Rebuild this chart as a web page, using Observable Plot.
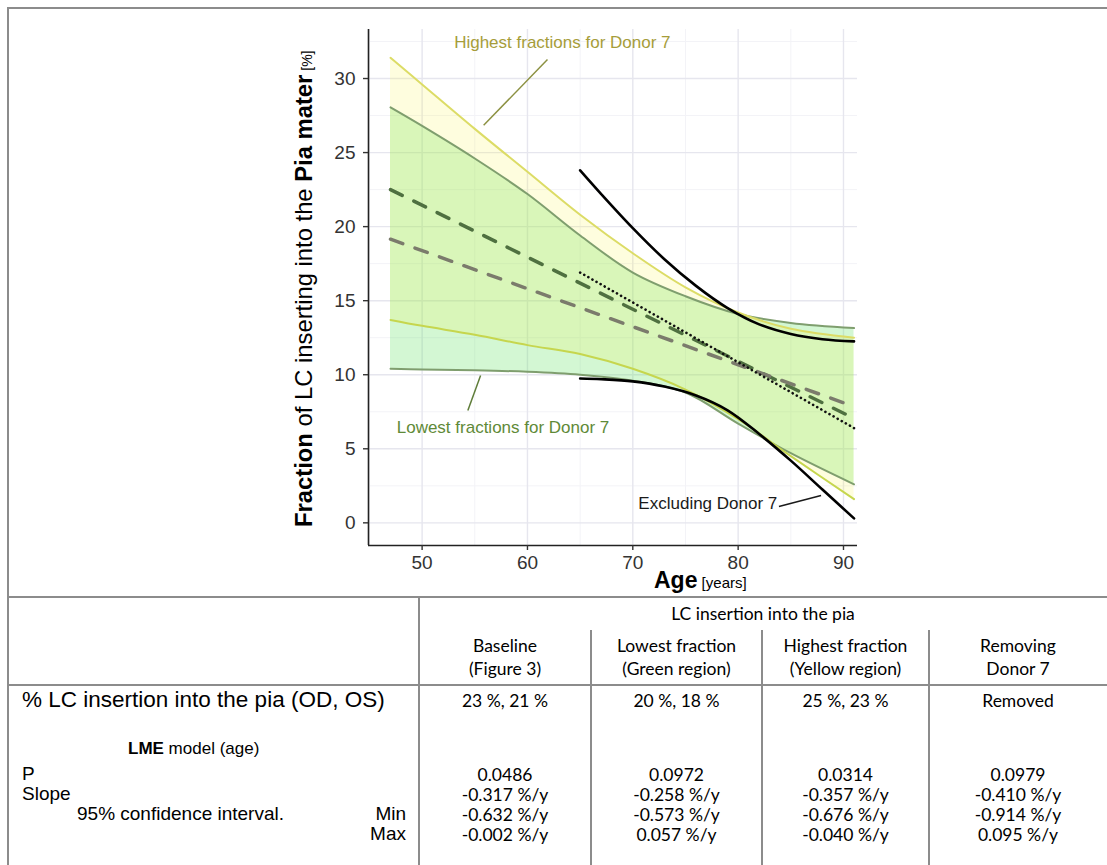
<!DOCTYPE html>
<html><head><meta charset="utf-8">
<script src="https://cdn.jsdelivr.net/npm/d3@7"></script>
<script src="https://cdn.jsdelivr.net/npm/@observablehq/plot@0.6"></script>
<style>
body{margin:0;background:#fff;}
#wrap{position:relative;width:1107px;height:865px;overflow:hidden;background:#fff;}
#chart{position:absolute;left:0;top:0;}
.hl{position:absolute;height:0;border-top:2px solid #8c8c8c;}
.vl{position:absolute;width:0;border-left:2px solid #8c8c8c;}
.cell{position:absolute;white-space:nowrap;font-family:Lato,"Open Sans",sans-serif;font-size:17.5px;color:#000;transform:translate(-50%,-50%);}
.lab{position:absolute;white-space:nowrap;font-family:"Liberation Sans",Arial,sans-serif;font-size:19px;color:#000;transform:translateY(-50%);}
</style></head>
<body><div id="wrap"><div id="chart"></div><div id="table"></div></div>
<script>
// ---- chart data ----
const bandAges      = [47, 50, 55, 60, 65, 70, 75, 80, 85, 91];
const highestUpper  = [31.4, 29.6, 26.6, 23.7, 20.8, 18.2, 15.9, 14.2, 13.1, 12.5];
const highestLower  = [13.7, 13.3, 12.7, 12.0, 11.4, 10.4, 9.0, 7.0, 4.5, 1.6];
const lowestUpper   = [28.05, 26.8, 24.6, 22.2, 19.4, 16.9, 15.3, 14.1, 13.5, 13.15];
const lowestLower   = [10.4, 10.35, 10.3, 10.2, 10.0, 9.6, 8.8, 6.7, 4.7, 2.6];
const exclAges      = [65, 67, 70, 73, 76, 79, 82, 85, 88, 91];
const exclUpper     = [23.8, 22.2, 19.9, 17.8, 16.0, 14.5, 13.4, 12.75, 12.4, 12.25];
const exclLower     = [9.75, 9.7, 9.55, 9.2, 8.6, 7.6, 6.0, 4.2, 2.25, 0.3];
const fitAges       = [47, 91];
const highestFit    = [22.5, 7.05];
const lowestFit     = [19.15, 7.85];
const exclFitAges   = [65, 91];
const exclFit       = [16.9, 6.4];
const xTicks = [50, 60, 70, 80, 90];
const xMinor = [45, 55, 65, 75, 85];
const yTicks = [0, 5, 10, 15, 20, 25, 30];
const yMinor = [2.5, 7.5, 12.5, 17.5, 22.5, 27.5, 32.5];
const xDomain = [44.91, 91.33];
const yDomain = [-1.53, 33.31];
// annotations
const noteText  = ["Highest fractions for Donor 7", "Lowest fractions for Donor 7", "Excluding Donor 7"];
const noteAge   = [63.31, 57.68, 77.12];
const noteValue = [32.4, 6.46, 1.3];
const noteColor = ["#a69d3a", "#5f8a38", "#1a1a1a"];
const leadAge1  = [61.9, 55.55, 83.87];
const leadVal1  = [31.28, 9.95, 1.10];
const leadAge2  = [55.84, 54.34, 87.87];
const leadVal2  = [26.84, 7.59, 1.84];
const leadColor = ["#8c9142", "#5f7d3a", "#1a1a1a"];

// ---- table data ----
const tableTitle = "LC insertion into the pia";
const colHead1 = ["Baseline", "Lowest fraction", "Highest fraction", "Removing"];
const colHead2 = ["(Figure 3)", "(Green region)", "(Yellow region)", "Donor 7"];
const pctInsertion = ["23 %, 21 %", "20 %, 18 %", "25 %, 23 %", "Removed"];
const pValues = ["0.0486", "0.0972", "0.0314", "0.0979"];
const slopes  = ["-0.317 %/y", "-0.258 %/y", "-0.357 %/y", "-0.410 %/y"];
const ciMin   = ["-0.632 %/y", "-0.573 %/y", "-0.676 %/y", "-0.914 %/y"];
const ciMax   = ["-0.002 %/y", "0.057 %/y", "-0.040 %/y", "0.095 %/y"];

const tbl = (ages, a, b) => ages.map((age, i) => ({age, lo: a[i], hi: b[i]}));
const pts = (ages, v) => ages.map((age, i) => ({age, v: v[i]}));
const notes = noteText.map((t, i) => ({t, age: noteAge[i], v: noteValue[i], c: noteColor[i]}));
const leads = leadAge1.map((a, i) => ({a1: a, v1: leadVal1[i], a2: leadAge2[i], v2: leadVal2[i], c: leadColor[i]}));

const W = 1107, H = 597;
const curve = "catmull-rom";
const plot = Plot.plot({
  width: W, height: H,
  marginLeft: 368, marginRight: W - 857, marginTop: 29, marginBottom: H - 545,
  x: {domain: xDomain, axis: null},
  y: {domain: yDomain, axis: null},
  style: {background: "transparent", fontFamily: "'Liberation Sans', Arial, sans-serif", overflow: "visible"},
  marks: [
    Plot.ruleX(xMinor, {stroke: "#f3f3f7", strokeWidth: 1}),
    Plot.ruleY(yMinor, {stroke: "#f3f3f7", strokeWidth: 1}),
    Plot.ruleX(xTicks, {stroke: "#e6e6ee", strokeWidth: 1.4}),
    Plot.ruleY(yTicks, {stroke: "#e6e6ee", strokeWidth: 1.4}),
    Plot.areaY(tbl(bandAges, lowestLower, lowestUpper), {x: "age", y1: "lo", y2: "hi", fill: "#5ee05e", fillOpacity: 0.27, curve}),
    Plot.areaY(tbl(bandAges, highestLower, highestUpper), {x: "age", y1: "lo", y2: "hi", fill: "#f8f030", fillOpacity: 0.16, curve}),
    Plot.line(pts(bandAges, lowestUpper), {x: "age", y: "v", stroke: "#7f9e6e", strokeWidth: 2, curve}),
    Plot.line(pts(bandAges, lowestLower), {x: "age", y: "v", stroke: "#7f9e6e", strokeWidth: 2, curve}),
    Plot.line(pts(bandAges, highestUpper), {x: "age", y: "v", stroke: "#dcdc66", strokeWidth: 2, curve}),
    Plot.line(pts(bandAges, highestLower), {x: "age", y: "v", stroke: "#c6d64e", strokeWidth: 2, curve}),
    Plot.line(pts(fitAges, highestFit), {x: "age", y: "v", stroke: "#4f7040", strokeWidth: 3.5, strokeDasharray: "13,13"}),
    Plot.line(pts(fitAges, lowestFit), {x: "age", y: "v", stroke: "#7b7b6c", strokeWidth: 3.5, strokeDasharray: "13,13"}),
    Plot.line(pts(exclFitAges, exclFit), {x: "age", y: "v", stroke: "#111", strokeWidth: 2.6, strokeDasharray: "0.1,4.6", strokeLinecap: "round"}),
    Plot.line(pts(exclAges, exclUpper), {x: "age", y: "v", stroke: "#000", strokeWidth: 2.6, curve}),
    Plot.line(pts(exclAges, exclLower), {x: "age", y: "v", stroke: "#000", strokeWidth: 2.6, curve}),
    Plot.link(leads, {x1: "a1", y1: "v1", x2: "a2", y2: "v2", stroke: "c", strokeWidth: 1.5}),
    Plot.text(notes, {x: "age", y: "v", text: "t", fill: "c", fontSize: 17}),
    Plot.ruleX([xDomain[0]], {stroke: "#222", strokeWidth: 1.6}),
    Plot.ruleY([yDomain[0]], {stroke: "#222", strokeWidth: 1.6}),
    Plot.axisX(xTicks, {anchor: "bottom", tickSize: 5, tickPadding: 5, fontSize: 19, fill: "#333", stroke: "#333", strokeWidth: 1.4}),
    Plot.axisY(yTicks, {anchor: "left", tickSize: 5, tickPadding: 8, fontSize: 19, fill: "#333", stroke: "#333", strokeWidth: 1.4})
  ]
});
document.getElementById("chart").appendChild(plot);
const svg = d3.select(plot);
const yl = svg.append("text").attr("transform", "translate(312,527) rotate(-90)")
  .attr("text-anchor", "start")
  .attr("font-size", 23.8).attr("fill", "#000").attr("font-family", "'Liberation Sans', Arial, sans-serif");
yl.append("tspan").attr("font-weight", "bold").text("Fraction");
yl.append("tspan").text(" of LC inserting into the ");
yl.append("tspan").attr("font-weight", "bold").text("Pia mater");
yl.append("tspan").attr("font-size", 14).text(" [%]");
const xl = svg.append("text").attr("x", 654).attr("y", 588)
  .attr("text-anchor", "start")
  .attr("font-size", 23).attr("fill", "#000").attr("font-family", "'Liberation Sans', Arial, sans-serif");
xl.append("tspan").attr("font-weight", "bold").text("Age");
xl.append("tspan").attr("font-size", 15).text(" [years]");

// ---- table ----
const T = document.getElementById("table");
function hline(x, y, w) { const d = document.createElement("div"); d.className = "hl"; d.style.left = x + "px"; d.style.top = (y - 1) + "px"; d.style.width = w + "px"; T.appendChild(d); }
function vline(x, y, h) { const d = document.createElement("div"); d.className = "vl"; d.style.left = (x - 1) + "px"; d.style.top = y + "px"; d.style.height = h + "px"; T.appendChild(d); }
function cell(t, x, y) { const d = document.createElement("div"); d.className = "cell"; d.textContent = t; d.style.left = x + "px"; d.style.top = y + "px"; T.appendChild(d); return d; }
function lab(t, x, y, right) { const d = document.createElement("div"); d.className = "lab"; d.textContent = t; d.style.top = y + "px"; if (right) { d.style.right = (1107 - x) + "px"; } else { d.style.left = x + "px"; } T.appendChild(d); return d; }
// outer border
hline(7, 8, 1100);
vline(8, 7, 860);
hline(7, 597, 1100);
vline(419, 597, 270);
hline(7, 685, 1100);
const seps = [591, 762, 929];
seps.forEach(x => vline(x, 630, 240));
const colC = [505, 676.5, 845.5, 1018];
cell(tableTitle, 763, 613);
colHead1.forEach((t, i) => cell(t, colC[i], 645));
colHead2.forEach((t, i) => cell(t, colC[i], 668));
pctInsertion.forEach((t, i) => cell(t, colC[i], 700));
pValues.forEach((t, i) => cell(t, colC[i], 774));
slopes.forEach((t, i) => cell(t, colC[i], 794));
ciMin.forEach((t, i) => cell(t, colC[i], 814));
ciMax.forEach((t, i) => cell(t, colC[i], 834));
const pct = lab("% LC insertion into the pia (OD, OS)", 22, 700);
pct.style.fontSize = "22.5px";
const lme = lab("", 128, 749);
lme.style.fontSize = "17px";
lme.innerHTML = "<b>LME</b> model (age)";
lab("P", 22, 774);
lab("Slope", 22, 794);
lab("95% confidence interval.", 77, 814);
lab("Min", 406, 814, true);
lab("Max", 406, 834, true);
</script>
</body></html>
